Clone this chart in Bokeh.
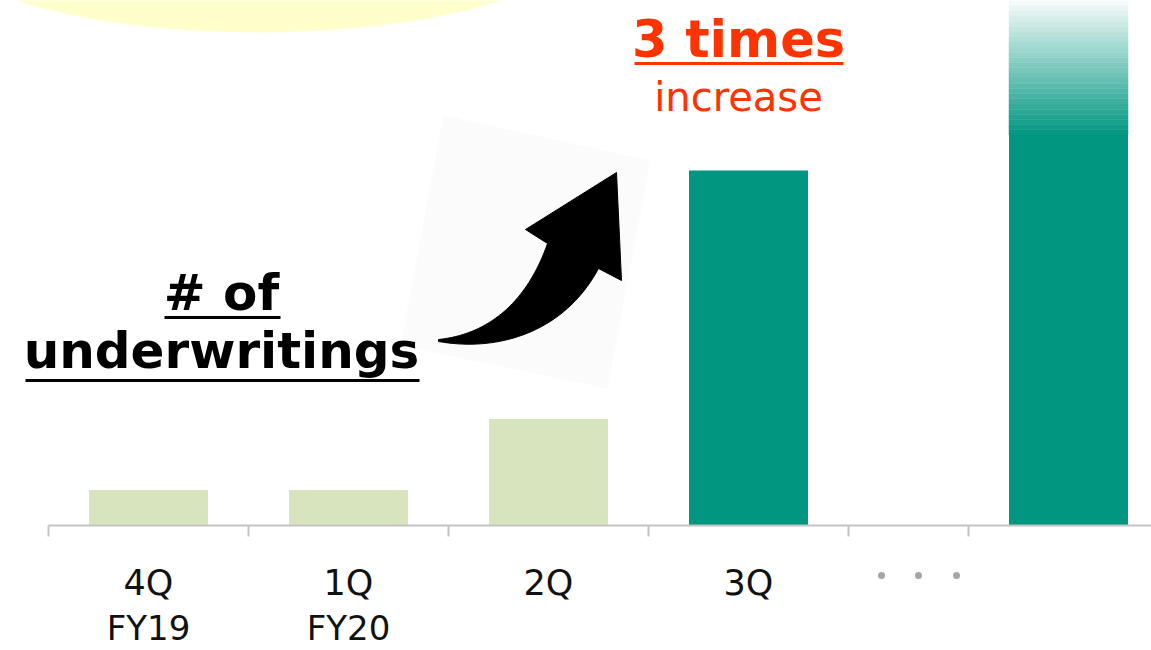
import numpy as np
from bokeh.plotting import figure
from bokeh.models import Range1d, LinearAxis, FixedTicker
from bokeh.core.properties import value
from bokeh.embed import file_html
from bokeh.resources import INLINE

# ---------------- data ----------------
categories = ["4Q", "1Q", "2Q", "3Q", "・・・", ""]
fiscal_years = ["FY19", "FY20", "", "", "", ""]
values = [1, 1, 3, 10, None, 11]          # number of underwritings (relative units)
highlight = [False, False, False, True, False, True]
slot_widths = [1, 1, 1, 1, 0.6, 1]        # the "..." slot is narrower

# ---------------- layout constants ----------------
W, H = 1151, 650
X0_PX = 48          # pixel where the axis starts
PX_PER_X = 200.0    # pixels per category slot
BASE_PX = 525       # pixel row of the baseline (from top)
PX_PER_Y = 35.5     # pixels per value unit

def dx(xp):
    return (xp - X0_PX) / PX_PER_X

def dy(yp):
    return (BASE_PX - yp) / PX_PER_Y

LIGHT = "#D7E4BD"
TEAL = (0, 150, 128)
TEAL_HEX = "#%02x%02x%02x" % TEAL
GRAY = "#C4C4C4"

bounds = np.concatenate([[0], np.cumsum(slot_widths)])
centers = bounds[:-1] + np.array(slot_widths) / 2

p = figure(width=W, height=H, output_backend="svg", toolbar_location=None,
           x_range=Range1d(dx(0), dx(W)), y_range=Range1d(dy(H), dy(0)),
           x_axis_location=None, y_axis_location=None,
           min_border_left=0, min_border_right=0, min_border_top=0, min_border_bottom=0)
p.outline_line_color = None
p.grid.visible = False
p.background_fill_color = "white"
p.border_fill_color = "white"

# yellow ellipse at the top
p.ellipse(x=[dx(258)], y=[dy(-68)], width=[660 / PX_PER_X], height=[200 / PX_PER_Y],
          fill_color="#FFFFCC", line_color=None)

# faint rotated picture background behind the arrow
bg = [(443, 115), (650, 160), (607, 388), (400, 345)]
p.patch([dx(a) for a, b in bg], [dy(b) for a, b in bg], fill_color="#FBFBFB", line_color=None)

# curved arrow
def bez(p0, p1, p2, p3, n=40):
    t = np.linspace(0, 1, n)[:, None]
    P = [np.array(q, float) for q in (p0, p1, p2, p3)]
    return ((1 - t) ** 3) * P[0] + 3 * ((1 - t) ** 2) * t * P[1] + 3 * (1 - t) * t ** 2 * P[2] + t ** 3 * P[3]

upper = bez((547, 243), (530, 292), (496, 333), (438, 339))
lower = bez((438, 341), (500, 352), (565, 330), (598, 268))
pts = np.vstack([[(616, 172), (525, 229)], upper, lower, [(621, 280)]])
p.patch([dx(a) for a in pts[:, 0]], [dy(b) for b in pts[:, 1]], fill_color="black", line_color="black",
        line_width=1)

# bars
bar_w = 119 / PX_PER_X
bx = [c for c, v in zip(centers, values) if v is not None]
bv = [v for v in values if v is not None]
bc = [TEAL_HEX if h else LIGHT for h, v in zip(highlight, values) if v is not None]
p.vbar(x=bx, top=bv, bottom=0, width=bar_w, fill_color=bc, line_color=None)

# gradient fading out above the last bar
last_x = centers[-1]
n_bands = 26
edges = np.linspace(values[-1], dy(0), n_bands + 1)
cols = []
for i in range(n_bands):
    t = (i + 0.5) / n_bands * 0.97
    c = tuple(int(round(TEAL[k] * (1 - t) + 255 * t)) for k in range(3))
    cols.append("#%02x%02x%02x" % c)
p.quad(left=last_x - bar_w / 2, right=last_x + bar_w / 2, bottom=edges[:-1], top=edges[1:],
       fill_color=cols, line_color=cols, line_width=0.5)

# axes (fixed at value 0, inside the canvas)
axA = LinearAxis(ticker=FixedTicker(ticks=list(centers[:4]), minor_ticks=list(bounds[:6])),
                 major_label_overrides={float(c): s for c, s in zip(centers[:4], categories[:4])},
                 bounds=(0, dx(W)), fixed_location=0)
axA.axis_line_color = GRAY
axA.axis_line_width = 2
axA.major_tick_line_color = None
axA.major_tick_out = 0
axA.major_tick_in = 0
axA.minor_tick_line_color = GRAY
axA.minor_tick_line_width = 2
axA.minor_tick_out = 11
axA.minor_tick_in = 0
axA.major_label_text_font = "DejaVu Sans"
axA.major_label_text_font_size = "35px"
axA.major_label_text_color = "#111111"
axA.major_label_standoff = 26

axB = LinearAxis(ticker=FixedTicker(ticks=list(centers[:2])),
                 major_label_overrides={float(c): s for c, s in zip(centers[:2], fiscal_years[:2])},
                 fixed_location=0)
axB.axis_line_color = None
axB.major_tick_line_color = None
axB.minor_tick_line_color = None
axB.major_tick_out = 0
axB.major_tick_in = 0
axB.major_label_text_font = "DejaVu Sans"
axB.major_label_text_font_size = "34px"
axB.major_label_text_color = "#111111"
axB.major_label_standoff = 82
p.add_layout(axA, "below")
p.add_layout(axB, "below")

# dots for the "..." slot
dot_off = np.array([-37, 0, 38]) / PX_PER_X
p.scatter(x=centers[4] + 10 / PX_PER_X + dot_off, y=[dy(575)] * 3, size=7,
          fill_color="#A6A6A6", line_color=None)

# annotation texts
ORANGE = "#FF3300"
txt = ["3 times", "increase", "# of", "underwritings"]
txt_x = [738, 738, 221, 221]
txt_y = [39, 96, 292, 350]
txt_size = ["51px", "40px", "50px", "50px"]
txt_col = [ORANGE, ORANGE, "#000000", "#000000"]
txt_style = ["bold", "normal", "bold", "bold"]
p.text(x=[dx(a) for a in txt_x], y=[dy(b) for b in txt_y], text=txt,
       text_font=value("DejaVu Sans"), text_font_size=txt_size, text_color=txt_col,
       text_font_style=txt_style, text_align="center", text_baseline="alphabetic")

# underlines
ul_x0 = [634, 164, 25]
ul_x1 = [843, 280, 419]
ul_y = [63, 317, 380]
ul_c = [ORANGE, "black", "black"]
p.segment(x0=[dx(a) for a in ul_x0], x1=[dx(a) for a in ul_x1], y0=[dy(b) for b in ul_y],
          y1=[dy(b) for b in ul_y], line_color=ul_c, line_width=3)

open("out.html", "w").write(file_html(p, INLINE))
